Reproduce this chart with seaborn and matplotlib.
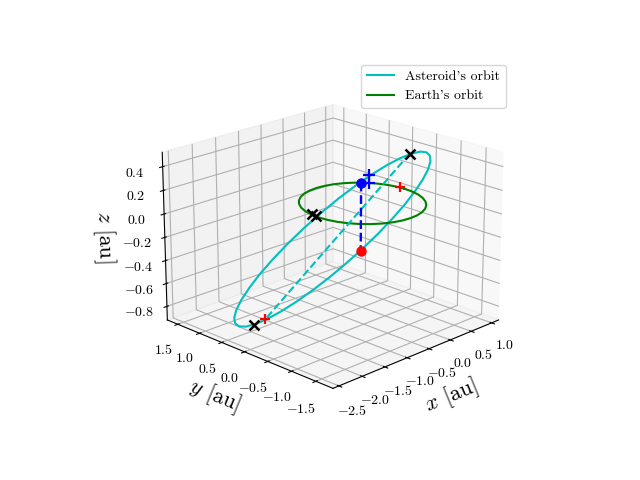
import numpy as np
import matplotlib
matplotlib.use('Agg')
import matplotlib.pyplot as plt
import seaborn as sns

# values
ast_x = [0.79, 0.98, 1.124, 1.221, 1.267, 1.259, 1.199, 1.089, 0.931, 0.73, 0.493, 0.227,
         -0.061, -0.361, -0.663, -0.961, -1.244, -1.502, -1.73, -1.92, -2.064, -2.161, -2.207, -2.199,
         -2.139, -2.029, -1.871, -1.67, -1.433, -1.167, -0.879, -0.579, -0.277, 0.021, 0.304, 0.562, 0.79]
ast_y = [-0.32, -0.34, -0.343, -0.331, -0.303, -0.261, -0.206, -0.139, -0.063, 0.021, 0.109, 0.199,
         0.29, 0.375, 0.455, 0.527, 0.587, 0.636, 0.67, 0.69, 0.693, 0.681, 0.653, 0.611,
         0.556, 0.489, 0.413, 0.329, 0.241, 0.151, 0.06, -0.025, -0.105, -0.177, -0.237, -0.286, -0.32]
ast_z = [0.37, 0.368, 0.345, 0.303, 0.244, 0.17, 0.082, -0.016, -0.124, -0.235, -0.348, -0.458,
         -0.563, -0.659, -0.743, -0.813, -0.867, -0.903, -0.92, -0.918, -0.895, -0.853, -0.794, -0.72,
         -0.632, -0.534, -0.426, -0.315, -0.202, -0.092, 0.013, 0.109, 0.193, 0.263, 0.317, 0.353, 0.37]

earth_x = [1.0, 0.985, 0.94, 0.866, 0.766, 0.643, 0.5, 0.342, 0.174, 0.0, -0.174, -0.342,
           -0.5, -0.643, -0.766, -0.866, -0.94, -0.985, -1.0, -0.985, -0.94, -0.866, -0.766, -0.643,
           -0.5, -0.342, -0.174, 0.0, 0.174, 0.342, 0.5, 0.643, 0.766, 0.866, 0.94, 0.985, 1.0]
earth_y = [0.0, 0.174, 0.342, 0.5, 0.643, 0.766, 0.866, 0.94, 0.985, 1.0, 0.985, 0.94,
           0.866, 0.766, 0.643, 0.5, 0.342, 0.174, 0.0, -0.174, -0.342, -0.5, -0.643, -0.766,
           -0.866, -0.94, -0.985, -1.0, -0.985, -0.94, -0.866, -0.766, -0.643, -0.5, -0.342, -0.174, 0.0]
earth_z = [0.0] * 37

apsis_x = [0.77, -1.475]
apsis_y = [-0.30, 0.707]
apsis_z = [0.37, -0.92]

link_x = [0.72, 0.19]
link_y = [0.69, 0.205]
link_z = [0.0, -0.475]

black_x = [0.77, -1.75, -0.964, -0.988]
black_y = [-0.30, 0.69, 0.16, 0.054]
black_z = [0.37, -0.93, 0.0, 0.0]

red_x = [1.01, -1.475]
red_y = [0.118, 0.707]
red_z = [0.0, -0.92]

blue_x = [0.81, 0.81]
blue_y = [0.59, 0.59]
blue_z = [0.0, 0.067]

x_ticks = [-2.5, -2.0, -1.5, -1.0, -0.5, 0.0, 0.5, 1.0]
y_ticks = [-1.5, -1.0, -0.5, 0.0, 0.5, 1.0, 1.5]
z_ticks = [-0.8, -0.6, -0.4, -0.2, 0.0, 0.2, 0.4]

sns.reset_defaults()
palette = sns.color_palette(['c', 'g', 'b', 'r', 'k'])
plt.rcParams['font.family'] = ['cmr10', 'DejaVu Sans']
plt.rcParams['mathtext.fontset'] = 'cm'
plt.rcParams['axes.formatter.use_mathtext'] = True
plt.rcParams['axes.unicode_minus'] = True

fig = plt.figure(figsize=(6.4, 4.8), dpi=100)
ax = fig.add_subplot(projection='3d', computed_zorder=False)
ax.view_init(elev=20, azim=-135)

ax.plot(ast_x, ast_y, ast_z, color=palette[0], label="Asteroid's orbit")
ax.plot(earth_x, earth_y, earth_z, color=palette[1], label="Earth's orbit")
ax.plot(apsis_x, apsis_y, apsis_z, color=palette[0], linestyle='--')
ax.plot(link_x, link_y, link_z, color=palette[2], linestyle='--', linewidth=1.7)
ax.plot(black_x, black_y, black_z, linestyle='', marker='x', color=palette[4], markersize=7, markeredgewidth=1.8)
ax.plot(red_x, red_y, red_z, linestyle='', marker='+', color=palette[3], markersize=7, markeredgewidth=1.6)
ax.plot(blue_x, blue_y, blue_z, linestyle='', marker='+', color=palette[2], markersize=9, markeredgewidth=1.6)
ax.plot(link_x[:1], link_y[:1], link_z[:1], linestyle='', marker='o', color=palette[2], markersize=6.5)
ax.plot(link_x[1:], link_y[1:], link_z[1:], linestyle='', marker='o', color=palette[3], markersize=6.5)

ax.set_xlim(-2.625, 1.175)
ax.set_ylim(-1.845, 1.745)
ax.set_zlim(-0.92, 0.52)
ax.set_xticks(x_ticks)
ax.set_yticks(y_ticks)
ax.set_zticks(z_ticks)
ax.tick_params(axis='x', pad=2)
ax.set_xlabel(r'$x$ [au]', fontsize=16)
ax.set_ylabel(r'$y$ [au]', fontsize=16)
ax.set_zlabel(r'$z$ [au]', fontsize=16)
ax.legend(loc='upper right')

fig.savefig('out.png', dpi=100)
